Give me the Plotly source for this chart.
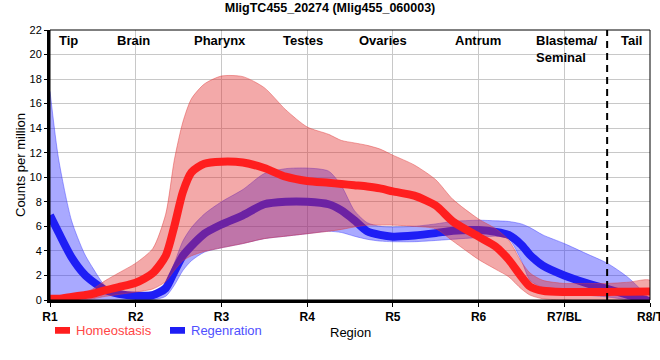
import plotly.graph_objects as go

# ---- data -------------------------------------------------------------
tick_vals = [1, 2, 3, 4, 5, 6, 7, 8]
tick_labels = ["R1", "R2", "R3", "R4", "R5", "R6", "R7/BL", "R8/T"]

tissue_names = ["Tip", "Brain", "Pharynx", "Testes", "Ovaries", "Antrum", "Blastema/<br>Seminal", "Tail"]
tissue_pos = [1.21, 1.97, 2.98, 3.95, 4.89, 5.99, 6.65, 7.78]
tissue_anchor = ["center", "center", "center", "center", "center", "center", "left", "center"]

boundary_x = 7.5

x = [1, 1.1, 1.25, 1.4, 1.5, 1.65, 1.8, 2, 2.2, 2.35, 2.45, 2.55, 2.65, 2.8, 3,
     3.25, 3.5, 3.75, 4, 4.25, 4.4, 4.55, 4.7, 4.85, 5, 5.25, 5.5, 5.7, 6,
     6.2, 6.35, 6.5, 6.6, 6.75, 7, 7.25, 7.5, 7.75, 8]

homeo_mean = [0.1, 0.1, 0.25, 0.4, 0.5, 0.8, 1.05, 1.4, 2.2, 3.6, 6.0, 8.8, 10.4, 11.1, 11.27,
              11.2, 10.75, 10.05, 9.7, 9.55, 9.45, 9.35, 9.25, 9.1, 8.85, 8.5, 7.7, 6.4, 5.16,
              4.35, 3.3, 1.9, 1.1, 0.75, 0.65, 0.65, 0.65, 0.68, 0.7]
homeo_upper = [0.25, 0.25, 0.35, 0.6, 0.9, 1.6, 2.2, 3.0, 4.2, 7.0, 11.4, 14.5, 16.4, 17.6, 18.25,
               18.2, 17.3, 15.5, 14.1, 13.5, 13.0, 12.8, 12.6, 12.3, 11.8, 11.0, 9.8, 8.2, 6.6,
               5.8, 4.9, 3.1, 2.2, 1.6, 1.35, 1.35, 1.35, 1.45, 1.6]
homeo_lower = [-0.3, -0.3, -0.2, 0.0, 0.1, 0.3, 0.45, 0.65, 0.9, 1.5, 2.4, 3.2, 3.6, 3.95, 4.25,
               4.6, 5.0, 5.2, 5.4, 5.6, 5.75, 5.95, 6.1, 6.1, 6.1, 6.0, 5.8, 4.8, 3.3,
               2.5, 1.9, 0.9, 0.4, 0.1, 0.0, -0.1, -0.1, -0.1, -0.1]

regen_mean = [6.9, 5.5, 3.5, 2.1, 1.5, 0.8, 0.5, 0.35, 0.4, 0.95, 2.3, 3.6, 4.4, 5.4, 6.15,
              6.9, 7.8, 8.0, 8.0, 7.8, 7.3, 6.5, 5.6, 5.3, 5.16, 5.25, 5.45, 5.65, 5.7,
              5.55, 5.3, 4.5, 3.67, 2.8, 2.0, 1.4, 0.9, 0.4, -0.1]
regen_upper = [17.0, 11.5, 6.5, 3.8, 2.6, 1.1, 0.7, 0.6, 0.7, 1.4, 3.0, 4.8, 5.9, 7.0, 8.0,
               9.0, 10.3, 10.7, 10.75, 10.5, 9.3, 7.3, 6.3, 6.0, 5.95, 6.0, 6.2, 6.4, 6.5,
               6.45, 6.4, 6.2, 5.9, 5.3, 4.6, 3.8, 3.0, 1.8, 0.0]
regen_lower = [0.0, -0.2, -0.2, -0.2, -0.2, -0.2, -0.2, -0.2, 0.0, 0.3, 1.2, 2.4, 3.2, 3.9, 4.25,
               4.6, 5.0, 5.2, 5.4, 5.6, 5.5, 5.2, 4.95, 4.8, 4.75, 4.75, 4.85, 4.95, 5.1,
               5.2, 5.0, 3.2, 1.6, 1.0, 0.55, 0.4, 0.25, 0.0, -0.3]

# ---- styles -----------------------------------------------------------
RED = "rgb(255,30,30)"
BLUE = "rgb(30,30,245)"
RED_FILL = "rgba(225,40,40,0.40)"
BLUE_FILL = "rgba(40,40,255,0.40)"
FONT = "Liberation Sans, Arial, sans-serif"

fig = go.Figure()


def band(upper, lower, fill, edge):
    return go.Scatter(
        x=x + x[::-1], y=upper + lower[::-1], mode="lines", fill="toself",
        fillcolor=fill, line=dict(color=edge, width=1, shape="spline", smoothing=0.7),
        hoverinfo="skip", showlegend=False)


fig.add_trace(band(regen_upper, regen_lower, BLUE_FILL, "rgba(60,60,255,0.45)"))
fig.add_trace(go.Scatter(x=x, y=regen_mean, mode="lines", name="Regenration",
                         line=dict(color=BLUE, width=8, shape="spline", smoothing=0.7),
                         showlegend=False))
fig.add_trace(band(homeo_upper, homeo_lower, RED_FILL, "rgba(225,60,60,0.45)"))
fig.add_trace(go.Scatter(x=x, y=homeo_mean, mode="lines", name="Homeostasis",
                         line=dict(color=RED, width=8, shape="spline", smoothing=0.7),
                         showlegend=False))

# boundary line
fig.add_shape(type="line", x0=boundary_x, x1=boundary_x, y0=0, y1=22, xref="x", yref="y",
              line=dict(color="black", width=2, dash="7px,5px"))
# thin frame (top / right)
fig.add_shape(type="rect", x0=0, x1=1, y0=0, y1=1, xref="paper", yref="paper",
              line=dict(color="black", width=1), layer="above")

# tissue labels
for name, pos, anc in zip(tissue_names, tissue_pos, tissue_anchor):
    fig.add_annotation(x=pos, y=1, xref="x", yref="paper", text="<b>%s</b>" % name,
                       showarrow=False, xanchor=anc, yanchor="top", yshift=-1, align="left",
                       font=dict(family=FONT, size=13, color="black"))

# axis titles
fig.add_annotation(x=0.5, y=0, xref="paper", yref="paper", text="Region", showarrow=False,
                   yshift=-32, yanchor="middle", font=dict(family=FONT, size=13, color="black"))
fig.add_annotation(x=0, y=0.5, xref="paper", yref="paper", text="Counts per million",
                   showarrow=False, textangle=-90, xshift=-30, xanchor="center",
                   font=dict(family=FONT, size=13, color="black"))

# manual legend
legend_items = [("Homeostasis", RED, "rgb(255,70,70)", 0.0083, 0.040),
                ("Regenration", BLUE, "rgb(80,80,255)", 0.200, 0.232)]
for label, col, tcol, sx, tx in legend_items:
    fig.add_shape(type="rect", x0=sx, x1=sx + 0.025, y0=-0.100, y1=-0.125, xref="paper",
                  yref="paper", line=dict(width=0), fillcolor=col)
    fig.add_annotation(x=tx, y=-0.112, xref="paper", yref="paper", text=label, showarrow=False,
                       xanchor="left", yanchor="middle", font=dict(family=FONT, size=13, color=tcol))

fig.update_layout(
    width=660, height=360,
    margin=dict(l=50, r=10, t=30, b=60, autoexpand=False),
    paper_bgcolor="white", plot_bgcolor="white",
    font=dict(family=FONT, size=11, color="black"),
    title=dict(text="<b>MligTC455_20274 (Mlig455_060003)</b>", x=0.5, xanchor="center",
               y=0.978, yanchor="middle", yref="container",
               font=dict(family=FONT, size=12.5, color="black")),
    showlegend=False,
)
fig.update_xaxes(range=[1, 8], tickvals=tick_vals,
                 ticktext=["<b>%s</b>" % t for t in tick_labels],
                 tickfont=dict(family=FONT, size=12, color="black"),
                 ticklabeloverflow="allow", automargin=False,
                 showgrid=True, gridcolor="rgb(200,200,200)", gridwidth=1,
                 showline=True, linecolor="black", linewidth=3,
                 ticks="outside", ticklen=4, tickcolor="black", zeroline=False)
fig.update_yaxes(range=[0, 22], dtick=2, tick0=0, automargin=False,
                 tickfont=dict(family=FONT, size=11, color="black"),
                 showgrid=True, gridcolor="rgb(200,200,200)", gridwidth=1,
                 showline=True, linecolor="black", linewidth=3,
                 ticks="outside", ticklen=3, tickcolor="black", zeroline=False)

fig.write_html("out.html", config={"displayModeBar": False},
               post_script="document.body.style.margin='0';document.body.style.overflow='hidden';")
